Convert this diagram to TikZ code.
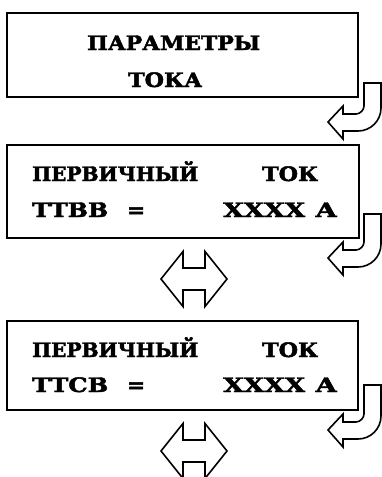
\documentclass[tikz,border=0pt]{standalone}
\usepackage{fontspec}
\newfontfamily\lcdfont[FakeBold=2.2]{DejaVu Serif Bold}
\usepackage{graphicx}
\newsavebox\wbox
\newsavebox\tbox
\newcommand{\fitw}[2]{%
  \sbox\wbox{#2}\sbox\tbox{Т}%
  \pgfmathsetmacro\sxf{#1/\the\wd\wbox}%
  \pgfmathsetmacro\syf{14.5/\the\ht\tbox}%
  \scalebox{\sxf}[\syf]{\usebox\wbox}}
\newcommand{\hookarr}[2]{%
  \draw[hookarrow] (364,#1) -- (381,#1) -- (381,#2-14)
    .. controls (381,#2-1.3) and (370.7,#2+9) .. (358,#2+9)
    -- (343,#2+9) -- (343,#2+17) -- (328,#2) -- (343,#2-16) -- (343,#2-8)
    -- (356,#2-8) .. controls (360.4,#2-8) and (364,#2-12.4) .. (364,#2-16) -- cycle;}
\newcommand{\dblarr}[1]{%
  \draw[hookarrow] (161,#1) -- (183,#1-27.5) -- (183,#1-11) -- (205,#1-11)
    -- (205,#1-27.5) -- (227,#1) -- (205,#1+27.5) -- (205,#1+11)
    -- (183,#1+11) -- (183,#1+27.5) -- cycle;}
\tikzset{
  box/.style={draw, line width=2pt, inner sep=0pt},
  word/.style={anchor=base west, inner sep=0pt, font=\lcdfont\fontsize{19.5}{20}\selectfont},
  hookarrow/.style={draw, line width=1.6pt, fill=white, line join=miter}
}
\begin{document}
\begin{tikzpicture}[x=1pt,y=-1pt]
\useasboundingbox (0,0) rectangle (382,477);
% boxes
\node[box, minimum width=351pt, minimum height=84pt] (b1) at (182.5,55) {};
\node[box, minimum width=352pt, minimum height=93pt] (b2) at (183,191.5) {};
\node[box, minimum width=351pt, minimum height=89pt] (b3) at (182.5,365.5) {};
% box 1 text
\node[word] (t1a) at (87,50) {\fitw{173}{ПАРАМЕТРЫ}};
\node[word] (t1b) at (128,87) {\fitw{74}{ТОКА}};
% box 2 text
\node[word] (t2a) at (32,181) {\fitw{166}{ПЕРВИЧНЫЙ}};
\node[word] (t2b) at (262,181) {\fitw{56}{ТОК}};
\node[word] (t2c) at (32,217) {\fitw{76}{ТТВВ}};
\node[word] (t2d) at (127,217) {\fitw{18}{=}};
\node[word] (t2e) at (223,217) {\fitw{82}{ХХХХ}};
\node[word] (t2f) at (315,217) {\fitw{22}{А}};
% box 3 text
\node[word] (t3a) at (32,357) {\fitw{166}{ПЕРВИЧНЫЙ}};
\node[word] (t3b) at (262,357) {\fitw{56}{ТОК}};
\node[word] (t3c) at (32,392) {\fitw{76}{ТТСВ}};
\node[word] (t3d) at (127,392) {\fitw{18}{=}};
\node[word] (t3e) at (223,392) {\fitw{82}{ХХХХ}};
\node[word] (t3f) at (315,392) {\fitw{22}{А}};
% arrows
\hookarr{83}{122}
\hookarr{214}{258}
\hookarr{385}{430}
\dblarr{279}
\dblarr{451}
\end{tikzpicture}
\end{document}
